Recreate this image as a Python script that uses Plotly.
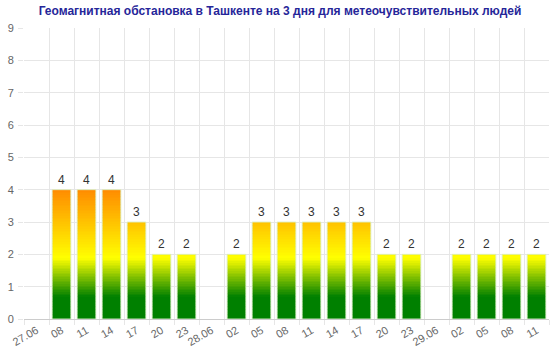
import plotly.graph_objects as go

# ---- data ----
tick_labels = ["27.06", "08", "11", "14", "17", "20", "23",
               "28.06", "02", "05", "08", "11", "14", "17", "20", "23",
               "29.06", "02", "05", "08", "11"]
kp_values = [None, 4, 4, 4, 3, 2, 2,
             None, 2, 3, 3, 3, 3, 3, 2, 2,
             None, 2, 2, 2, 2]
title_text = "Геомагнитная обстановка в Ташкенте на 3 дня для метеочувствительных людей"

x_pos = list(range(len(tick_labels)))

# gradient colour stops in value units
stops = [(0.0, (0, 128, 0)), (0.7, (0, 128, 0)), (1.9, (255, 255, 0)), (4.0, (255, 140, 0)), (9.0, (255, 140, 0))]


def color_at(v):
    for (a, ca), (b, cb) in zip(stops[:-1], stops[1:]):
        if a <= v <= b:
            t = 0 if b == a else (v - a) / (b - a)
            c = [round(ca[i] + (cb[i] - ca[i]) * t) for i in range(3)]
            return f"rgb({c[0]},{c[1]},{c[2]})"
    return "rgb(255,140,0)"


fig = go.Figure()
step = 0.05
vmax = max(v for v in kp_values if v is not None)
nseg = int(round(vmax / step))
for k in range(nseg):
    lo = k * step
    ys = [step if (v is not None and v > lo + 1e-9) else None for v in kp_values]
    fig.add_trace(go.Bar(x=x_pos, y=ys, base=[lo] * len(x_pos), width=0.75,
                         marker=dict(color=color_at(lo + step / 2), line=dict(width=0)),
                         hoverinfo="skip", showlegend=False))

# outline + value labels
fig.add_trace(go.Bar(x=x_pos, y=kp_values, width=0.75,
                     marker=dict(color="rgba(0,0,0,0)", line=dict(color="rgba(220,240,200,0.9)", width=1)),
                     text=[str(v) if v is not None else "" for v in kp_values],
                     textposition="outside", cliponaxis=False,
                     textfont=dict(family="Liberation Sans, Arial", size=12, color="#333333"),
                     showlegend=False))

fig.update_layout(
    width=560, height=347,
    margin=dict(l=24, r=11, t=28, b=28, autoexpand=False),
    barmode="overlay",
    plot_bgcolor="white", paper_bgcolor="white",
    font=dict(family="Liberation Sans, Arial", size=11, color="#666666"),
    title=dict(text=f"<b>{title_text}</b>", x=0.5, xanchor="center", y=0.97, yanchor="middle",
               font=dict(family="Liberation Sans, Arial", size=12, color="#262699")),
    xaxis=dict(range=[-0.5, len(x_pos) - 0.5], tickmode="array", tickvals=x_pos, ticktext=tick_labels,
               tickangle=-30, showgrid=False, ticks="", zeroline=False, automargin=False,
               showline=True, linecolor="#cccccc", linewidth=1,
               minor=dict(tick0=-0.5, dtick=1, showgrid=True, gridcolor="#e6e6e6", gridwidth=1,
                          ticks="outside", ticklen=5, tickcolor="#e6e6e6"),
               tickfont=dict(size=11, color="#666666")),
    yaxis=dict(range=[0, 9], tickmode="linear", tick0=0, dtick=1, showgrid=True, gridcolor="#e6e6e6",
               zeroline=False, ticks="outside", ticklen=5, tickcolor="#e6e6e6", showline=False,
               automargin=False,
               tickfont=dict(size=11, color="#666666"), ticklabelstandoff=2),
)

fig.write_html("out.html")
